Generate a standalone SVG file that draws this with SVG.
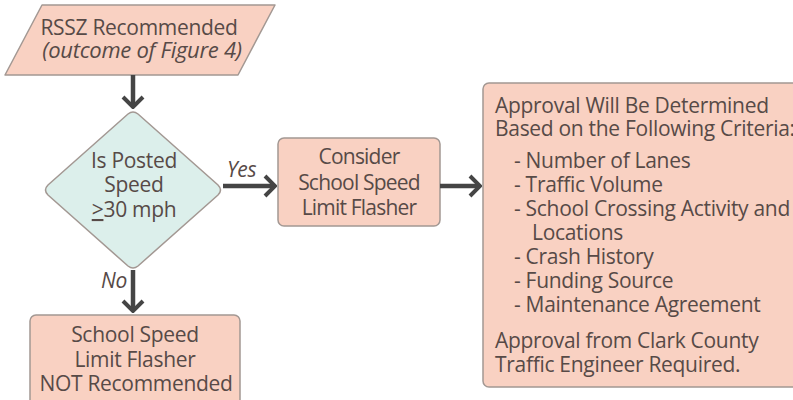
<svg xmlns="http://www.w3.org/2000/svg" width="793" height="400" viewBox="0 0 793 400">
<defs>
<style>
.box{fill:#f9d1c2;stroke:#a39893;stroke-width:1.5}
.dia{fill:#dcefeb;stroke:#a39893;stroke-width:1.5}
text{font-family:"Open Sans","Noto Sans",sans-serif;font-size:21px;letter-spacing:-0.3px;fill:#574a47}
.c{text-anchor:middle}
.i{font-style:italic}
.n{letter-spacing:-0.8px}
.con{stroke:#454545;stroke-width:4.5;fill:none}
</style>
<marker id="ah" viewBox="0 0 14 24" refX="12" refY="12" markerWidth="14" markerHeight="24" markerUnits="userSpaceOnUse" orient="auto">
<path d="M2,2 L12,12 L2,22" fill="none" stroke="#454545" stroke-width="4"/>
</marker>
</defs>
<rect width="793" height="400" fill="#ffffff"/>
<g id="start">
<path class="box" d="M42,5 L275,5 L238,75 L5,75 Z" stroke-linejoin="round"/>
<text class="c" x="139" y="35">RSSZ Recommended</text>
<text class="c i" x="142" y="58" style="font-size:22px">(outcome of Figure 4)</text>
</g>
<g id="decision">
<path class="dia" d="M128,114 Q133,110 138,114 L218,185 Q223,190 218,195 L138,266 Q133,270 128,266 L48,195 Q43,190 48,185 Z"/>
<text class="c" x="134" y="168">Is Posted</text>
<text class="c" x="134" y="192">Speed</text>
<text class="c" x="134" y="217"><tspan text-decoration="underline">&gt;</tspan>30 mph</text>
</g>
<g id="consider">
<rect class="box" x="278" y="138" width="162" height="88" rx="6"/>
<text class="c n" x="359" y="164">Consider</text>
<text class="c n" x="359" y="190">School Speed</text>
<text class="c n" x="359" y="215">Limit Flasher</text>
</g>
<g id="approval">
<rect class="box" x="483" y="83" width="320" height="304" rx="6"/>
<text x="495" y="113">Approval Will Be Determined</text>
<text x="495" y="136">Based on the Following Criteria:</text>
<text x="514" y="168">- Number of Lanes</text>
<text x="514" y="192">- Traffic Volume</text>
<text x="514" y="216">- School Crossing Activity and</text>
<text x="532" y="240">Locations</text>
<text x="514" y="264">- Crash History</text>
<text x="514" y="288">- Funding Source</text>
<text x="514" y="312">- Maintenance Agreement</text>
<text x="495" y="348">Approval from Clark County</text>
<text x="495" y="372">Traffic Engineer Required.</text>
</g>
<g id="notrec">
<rect class="box" x="30" y="315" width="210" height="100" rx="6"/>
<text class="c" x="135" y="342">School Speed</text>
<text class="c" x="135" y="367">Limit Flasher</text>
<text class="c" x="136" y="391">NOT Recommended</text>
</g>
<g id="connectors">
<line class="con" x1="133" y1="75" x2="133" y2="107" marker-end="url(#ah)"/>
<line class="con" x1="223" y1="186" x2="275" y2="186" marker-end="url(#ah)"/>
<line class="con" x1="440" y1="186" x2="480" y2="186" marker-end="url(#ah)"/>
<line class="con" x1="133" y1="270" x2="133" y2="311" marker-end="url(#ah)"/>
<text class="i" x="227" y="177">Yes</text>
<text class="i" x="101" y="288">No</text>
</g>
</svg>
